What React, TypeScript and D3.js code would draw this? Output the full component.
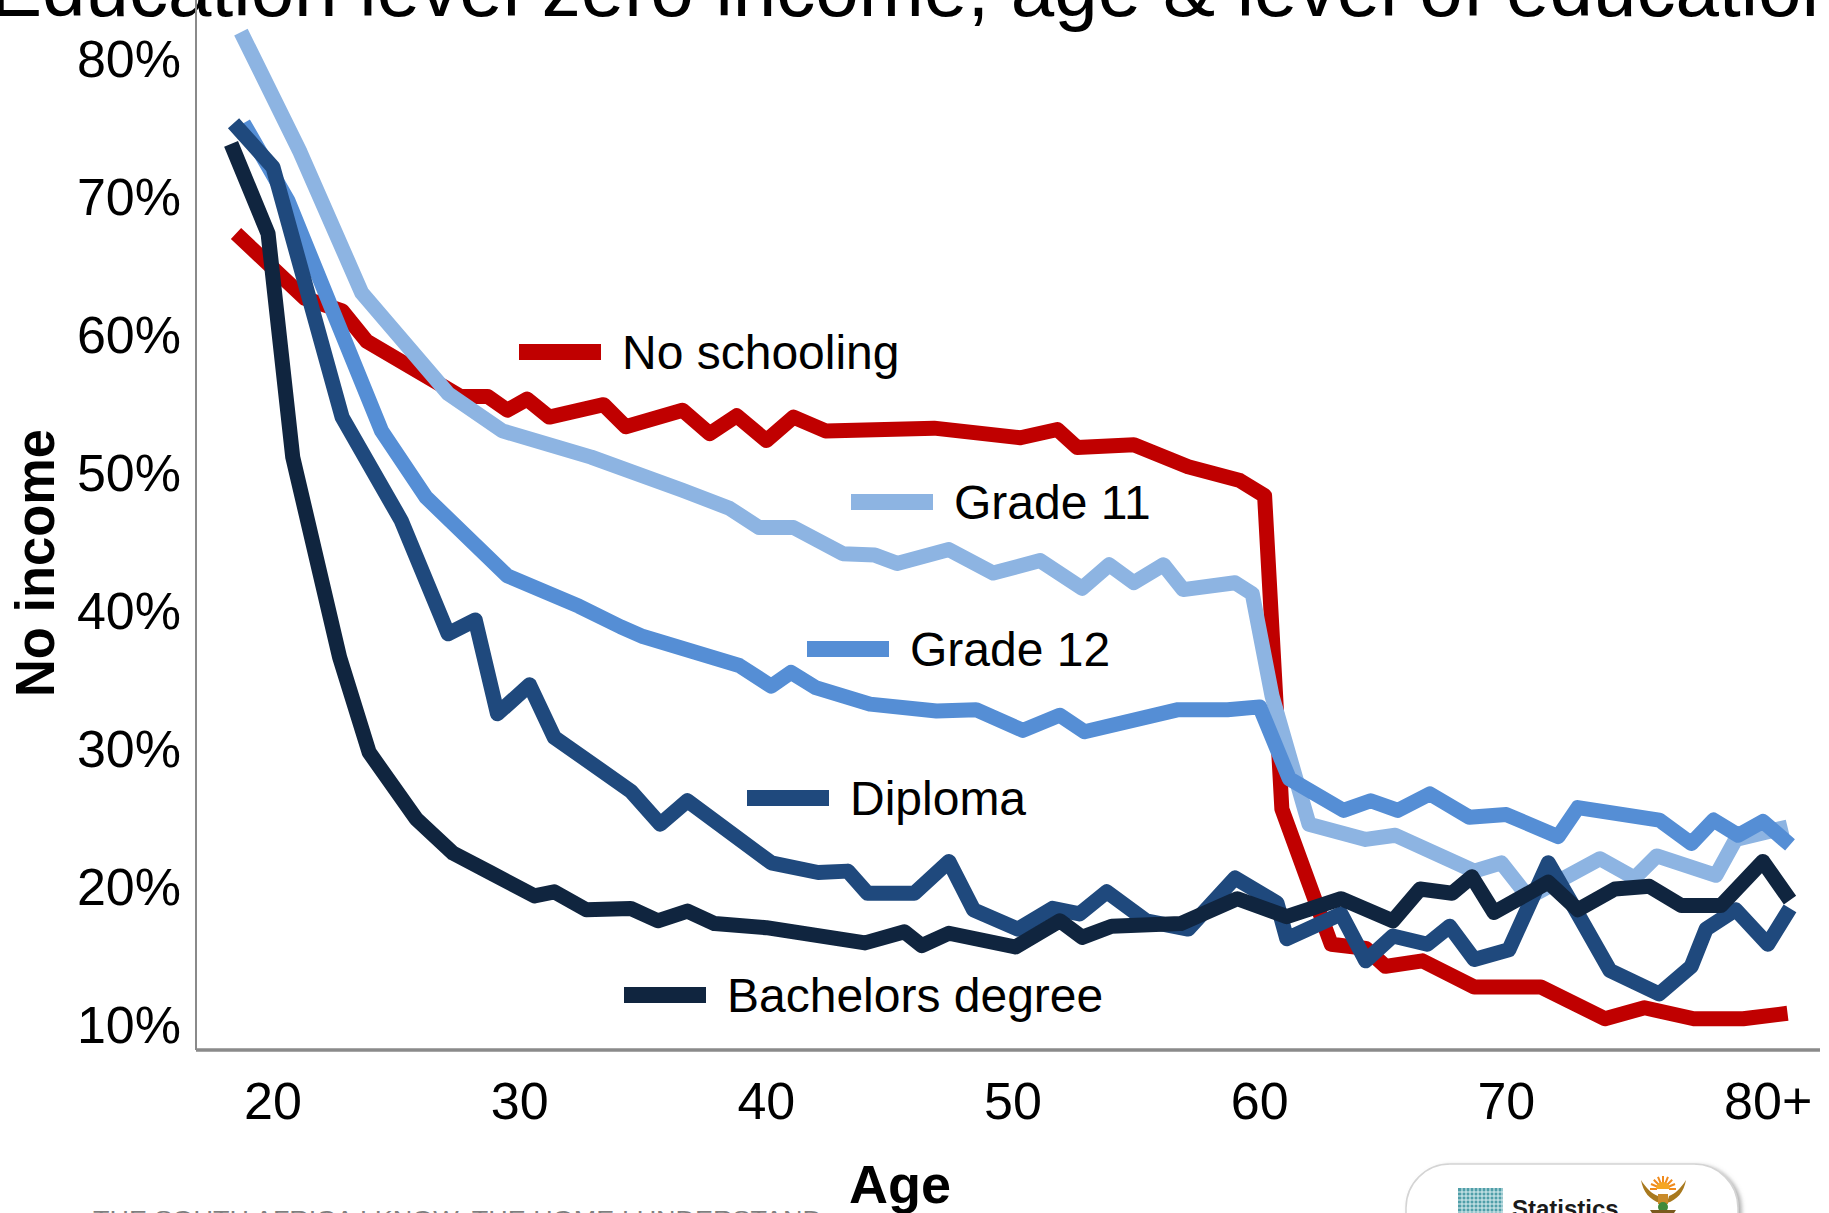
import React from 'react';
import * as d3 from 'd3';

const WIDTH = 1829;
const HEIGHT = 1213;
const FONT = '"Liberation Sans", Arial, Helvetica, sans-serif';

// ---- data (age, % with no income) ----
const titleText = 'Education level zero income, age & level of education';
const xTicks = [20, 30, 40, 50, 60, 70, 80];
const xTickLabels = ['20', '30', '40', '50', '60', '70', '80+'];
const yTicks = [10, 20, 30, 40, 50, 60, 70, 80];

const noSchooling: [number, number][] = [
  [18.5, 67.3], [21.3, 62.6], [22.8, 61.7], [23.8, 59.5], [27.6, 55.5], [28.7, 55.5],
  [29.5, 54.5], [30.3, 55.3], [31.2, 54.0], [33.4, 54.9], [34.3, 53.3], [36.6, 54.5],
  [37.7, 52.8], [38.8, 54.1], [40.0, 52.3], [41.1, 54.0], [42.4, 53.0], [46.8, 53.2],
  [50.3, 52.5], [51.8, 53.1], [52.6, 51.8], [54.9, 52.0], [57.1, 50.4], [59.2, 49.4],
  [60.2, 48.3], [60.9, 25.6], [62.9, 15.8], [64.3, 15.5], [65.1, 14.2], [66.6, 14.6],
  [68.7, 12.7], [71.4, 12.7], [74.0, 10.4], [75.6, 11.2], [77.6, 10.4], [79.6, 10.4],
  [81.4, 10.8],
];

const grade11: [number, number][] = [
  [18.7, 81.9], [21.1, 73.2], [23.6, 63.0], [27.1, 55.7], [29.3, 53.0], [32.9, 51.1],
  [36.6, 48.7], [38.5, 47.4], [39.7, 46.0], [41.1, 46.0], [43.1, 44.1], [44.4, 44.0],
  [45.3, 43.4], [47.4, 44.4], [49.2, 42.7], [51.1, 43.6], [52.8, 41.6], [53.9, 43.3],
  [54.9, 42.0], [56.1, 43.3], [56.9, 41.5], [59.0, 42.0], [59.7, 41.2], [60.5, 33.8],
  [62.0, 24.5], [64.3, 23.4], [65.5, 23.7], [68.7, 21.1], [69.8, 21.7], [70.9, 19.2],
  [73.8, 22.0], [75.2, 20.6], [76.1, 22.2], [78.5, 20.8], [79.3, 23.4], [81.4, 24.3],
];

const grade12: [number, number][] = [
  [18.8, 75.3], [20.6, 69.7], [24.4, 53.0], [26.2, 48.2], [27.3, 46.3], [29.5, 42.5],
  [32.4, 40.3], [34.1, 38.8], [35.0, 38.1], [38.9, 36.0], [40.2, 34.5], [41.0, 35.5],
  [42.0, 34.4], [44.2, 33.2], [46.9, 32.7], [48.5, 32.8], [50.4, 31.3], [51.9, 32.4],
  [52.9, 31.2], [56.7, 32.8], [58.7, 32.8], [60.0, 33.0], [61.2, 27.8], [63.4, 25.5],
  [64.5, 26.2], [65.6, 25.5], [66.9, 26.7], [68.5, 25.0], [70.0, 25.2], [72.1, 23.6],
  [72.9, 25.7], [76.2, 24.8], [77.5, 23.1], [78.4, 24.8], [79.4, 23.7], [80.4, 24.7],
  [81.5, 23.0],
];

const diploma: [number, number][] = [
  [18.4, 75.3], [20.0, 72.1], [22.8, 54.0], [25.2, 46.5], [27.1, 38.3], [28.2, 39.3],
  [29.1, 32.5], [30.4, 34.6], [31.4, 30.8], [34.5, 26.9], [35.7, 24.5], [36.8, 26.2],
  [40.2, 21.7], [42.1, 21.0], [43.3, 21.1], [44.1, 19.5], [46.0, 19.5], [47.4, 21.8],
  [48.4, 18.3], [50.2, 16.9], [51.6, 18.4], [52.7, 18.0], [53.8, 19.6], [55.4, 17.5],
  [57.1, 16.9], [59.0, 20.6], [60.7, 18.8], [61.1, 16.2], [63.3, 18.0], [64.3, 14.6],
  [65.4, 16.4], [66.8, 15.8], [67.7, 17.1], [68.7, 14.7], [70.1, 15.4], [71.7, 21.7],
  [72.9, 18.0], [74.2, 13.9], [76.2, 12.2], [77.5, 14.2], [78.1, 16.9], [79.3, 18.3],
  [80.6, 15.8], [81.5, 18.4],
];

const bachelors: [number, number][] = [
  [18.3, 73.8], [19.8, 67.3], [20.8, 51.1], [22.7, 36.6], [23.9, 29.7], [25.8, 24.9],
  [27.3, 22.4], [28.8, 21.0], [30.6, 19.3], [31.4, 19.6], [32.7, 18.3], [34.5, 18.4],
  [35.6, 17.5], [36.8, 18.2], [37.9, 17.3], [40.0, 17.0], [44.0, 15.9], [45.6, 16.7],
  [46.3, 15.7], [47.4, 16.6], [50.1, 15.6], [51.9, 17.5], [52.8, 16.3], [54.0, 17.1],
  [56.8, 17.3], [59.1, 19.1], [61.1, 17.8], [63.3, 19.1], [65.4, 17.5], [66.5, 19.8],
  [67.8, 19.5], [68.6, 20.7], [69.5, 18.1], [71.7, 20.3], [72.9, 18.3], [74.4, 19.8],
  [75.8, 20.0], [77.1, 18.6], [78.7, 18.6], [80.4, 21.8], [81.5, 19.0],
];

const seriesNames = ['No schooling', 'Grade 11', 'Grade 12', 'Diploma', 'Bachelors degree'];
const seriesData = [noSchooling, grade11, grade12, diploma, bachelors];
const seriesColors = ['#C00000', '#8DB4E2', '#558ED5', '#1F497D', '#10253F'];

// ---- layout (pixels) ----
const legendLayout = [
  { x: 519, y: 352 },
  { x: 851, y: 502 },
  { x: 807, y: 649 },
  { x: 747, y: 798 },
  { x: 624, y: 995 },
];

export default function App() {
  const x = d3.scaleLinear().domain([20, 80]).range([273, 1753]);
  const y = d3.scaleLinear().domain([10, 80]).range([1024.3, 58.3]);
  const line = d3
    .line<[number, number]>()
    .x((d) => x(d[0]))
    .y((d) => y(d[1]));

  const axisX = 196;
  const axisY = 1050;
  const tickFont = 52;

  return (
    <svg
      width={WIDTH}
      height={HEIGHT}
      viewBox={`0 0 ${WIDTH} ${HEIGHT}`}
      style={{ position: 'absolute', left: 0, top: 0, display: 'block', background: '#fff' }}
      fontFamily={FONT}
    >
      <defs>
        <filter id="logoShadow" x="-10%" y="-10%" width="130%" height="140%">
          <feDropShadow dx="3" dy="2" stdDeviation="2" floodColor="#777" floodOpacity="0.6" />
        </filter>
      </defs>
      <rect x={0} y={0} width={WIDTH} height={HEIGHT} fill="#ffffff" />

      {/* title (cut off at top) */}
      <text x={-10} y={16} fontSize={78} fill="#000" textLength={1855} lengthAdjust="spacingAndGlyphs">
        {titleText}
      </text>

      {/* axes */}
      <line x1={axisX} y1={0} x2={axisX} y2={axisY} stroke="#8a8a8a" strokeWidth={2} />
      <line x1={axisX} y1={axisY} x2={1820} y2={axisY} stroke="#8a8a8a" strokeWidth={3.5} />

      {/* y tick labels */}
      {yTicks.map((t) => (
        <text key={'y' + t} x={181} y={y(t) + tickFont * 0.36} fontSize={tickFont} textAnchor="end" fill="#000">
          {t + '%'}
        </text>
      ))}

      {/* x tick labels */}
      {xTicks.map((t, i) => {
        const lbl = xTickLabels[i];
        const plus = lbl.endsWith('+');
        return (
          <text
            key={'x' + t}
            x={plus ? x(t) - tickFont * 0.556 : x(t)}
            y={1119}
            fontSize={tickFont}
            textAnchor={plus ? 'start' : 'middle'}
            fill="#000"
          >
            {lbl}
          </text>
        );
      })}

      {/* axis titles */}
      <text
        transform={`translate(${54},${563}) rotate(-90)`}
        fontSize={55}
        fontWeight="bold"
        textAnchor="middle"
        fill="#000"
        textLength={268}
        lengthAdjust="spacingAndGlyphs"
      >
        No income
      </text>
      <text x={900} y={1203} fontSize={54} fontWeight="bold" textAnchor="middle" fill="#000">
        Age
      </text>

      {/* series lines */}
      {seriesData.map((data, i) => (
        <path
          key={seriesNames[i]}
          d={line(data) || ''}
          fill="none"
          stroke={seriesColors[i]}
          strokeWidth={15}
          strokeLinejoin="round"
          strokeLinecap="butt"
        />
      ))}

      {/* in-plot legend labels */}
      {seriesNames.map((name, i) => (
        <g key={'leg' + name}>
          <line
            x1={legendLayout[i].x}
            x2={legendLayout[i].x + 82}
            y1={legendLayout[i].y}
            y2={legendLayout[i].y}
            stroke={seriesColors[i]}
            strokeWidth={16}
          />
          <text x={legendLayout[i].x + 103} y={legendLayout[i].y + 17} fontSize={48} fill="#000">
            {name}
          </text>
        </g>
      ))}

      {/* footer slogan (cut off) */}
      <text x={93} y={1226} fontSize={22} fill="#7f7f7f" textLength={729} lengthAdjust="spacingAndGlyphs">
        THE SOUTH AFRICA I KNOW, THE HOME I UNDERSTAND
      </text>

      {/* logo box (cut off) */}
      <g>
        <rect x={1406} y={1164} width={332} height={110} rx={44} ry={44} fill="#fff" stroke="#d4d4d4" strokeWidth={1.5} filter="url(#logoShadow)" />
        <rect x={1458} y={1188} width={45} height={30} fill="#4f9ea8" />
        {d3.range(1, 12).map((k) => (
          <line key={'gv' + k} x1={1458 + k * 4} x2={1458 + k * 4} y1={1188} y2={1218} stroke="#dff0f2" strokeWidth={1} />
        ))}
        {d3.range(1, 8).map((k) => (
          <line key={'gh' + k} x1={1458} x2={1503} y1={1188 + k * 4} y2={1188 + k * 4} stroke="#dff0f2" strokeWidth={1} />
        ))}
        <text x={1512} y={1217} fontSize={24} fontWeight="bold" fill="#1b1b1b">
          Statistics
        </text>
        {/* coat of arms (simplified) */}
        <g>
          {d3.range(0, 9).map((k) => {
            const a = Math.PI + (k * Math.PI) / 8;
            return (
              <line
                key={'ray' + k}
                x1={1663 + Math.cos(a) * 6}
                y1={1189 + Math.sin(a) * 6}
                x2={1663 + Math.cos(a) * 13}
                y2={1189 + Math.sin(a) * 13}
                stroke="#f08a1c"
                strokeWidth={2}
              />
            );
          })}
          <path d="M1656,1189 A7,7 0 0 1 1670,1189 Z" fill="#f5a623" />
          <path d="M1641,1180 C1643,1192 1650,1200 1660,1203 L1658,1196 C1652,1194 1646,1188 1641,1180 Z" fill="#a8791e" />
          <path d="M1686,1180 C1684,1192 1677,1200 1667,1203 L1669,1196 C1675,1194 1681,1188 1686,1180 Z" fill="#a8791e" />
          <rect x={1658} y={1194} width={10} height={10} fill="#c98b2a" />
          <circle cx={1663} cy={1207} r={5} fill="#3f8a3a" />
          <path d="M1650,1210 L1676,1210 L1674,1213 L1652,1213 Z" fill="#7a5a1e" />
        </g>
      </g>
    </svg>
  );
}
